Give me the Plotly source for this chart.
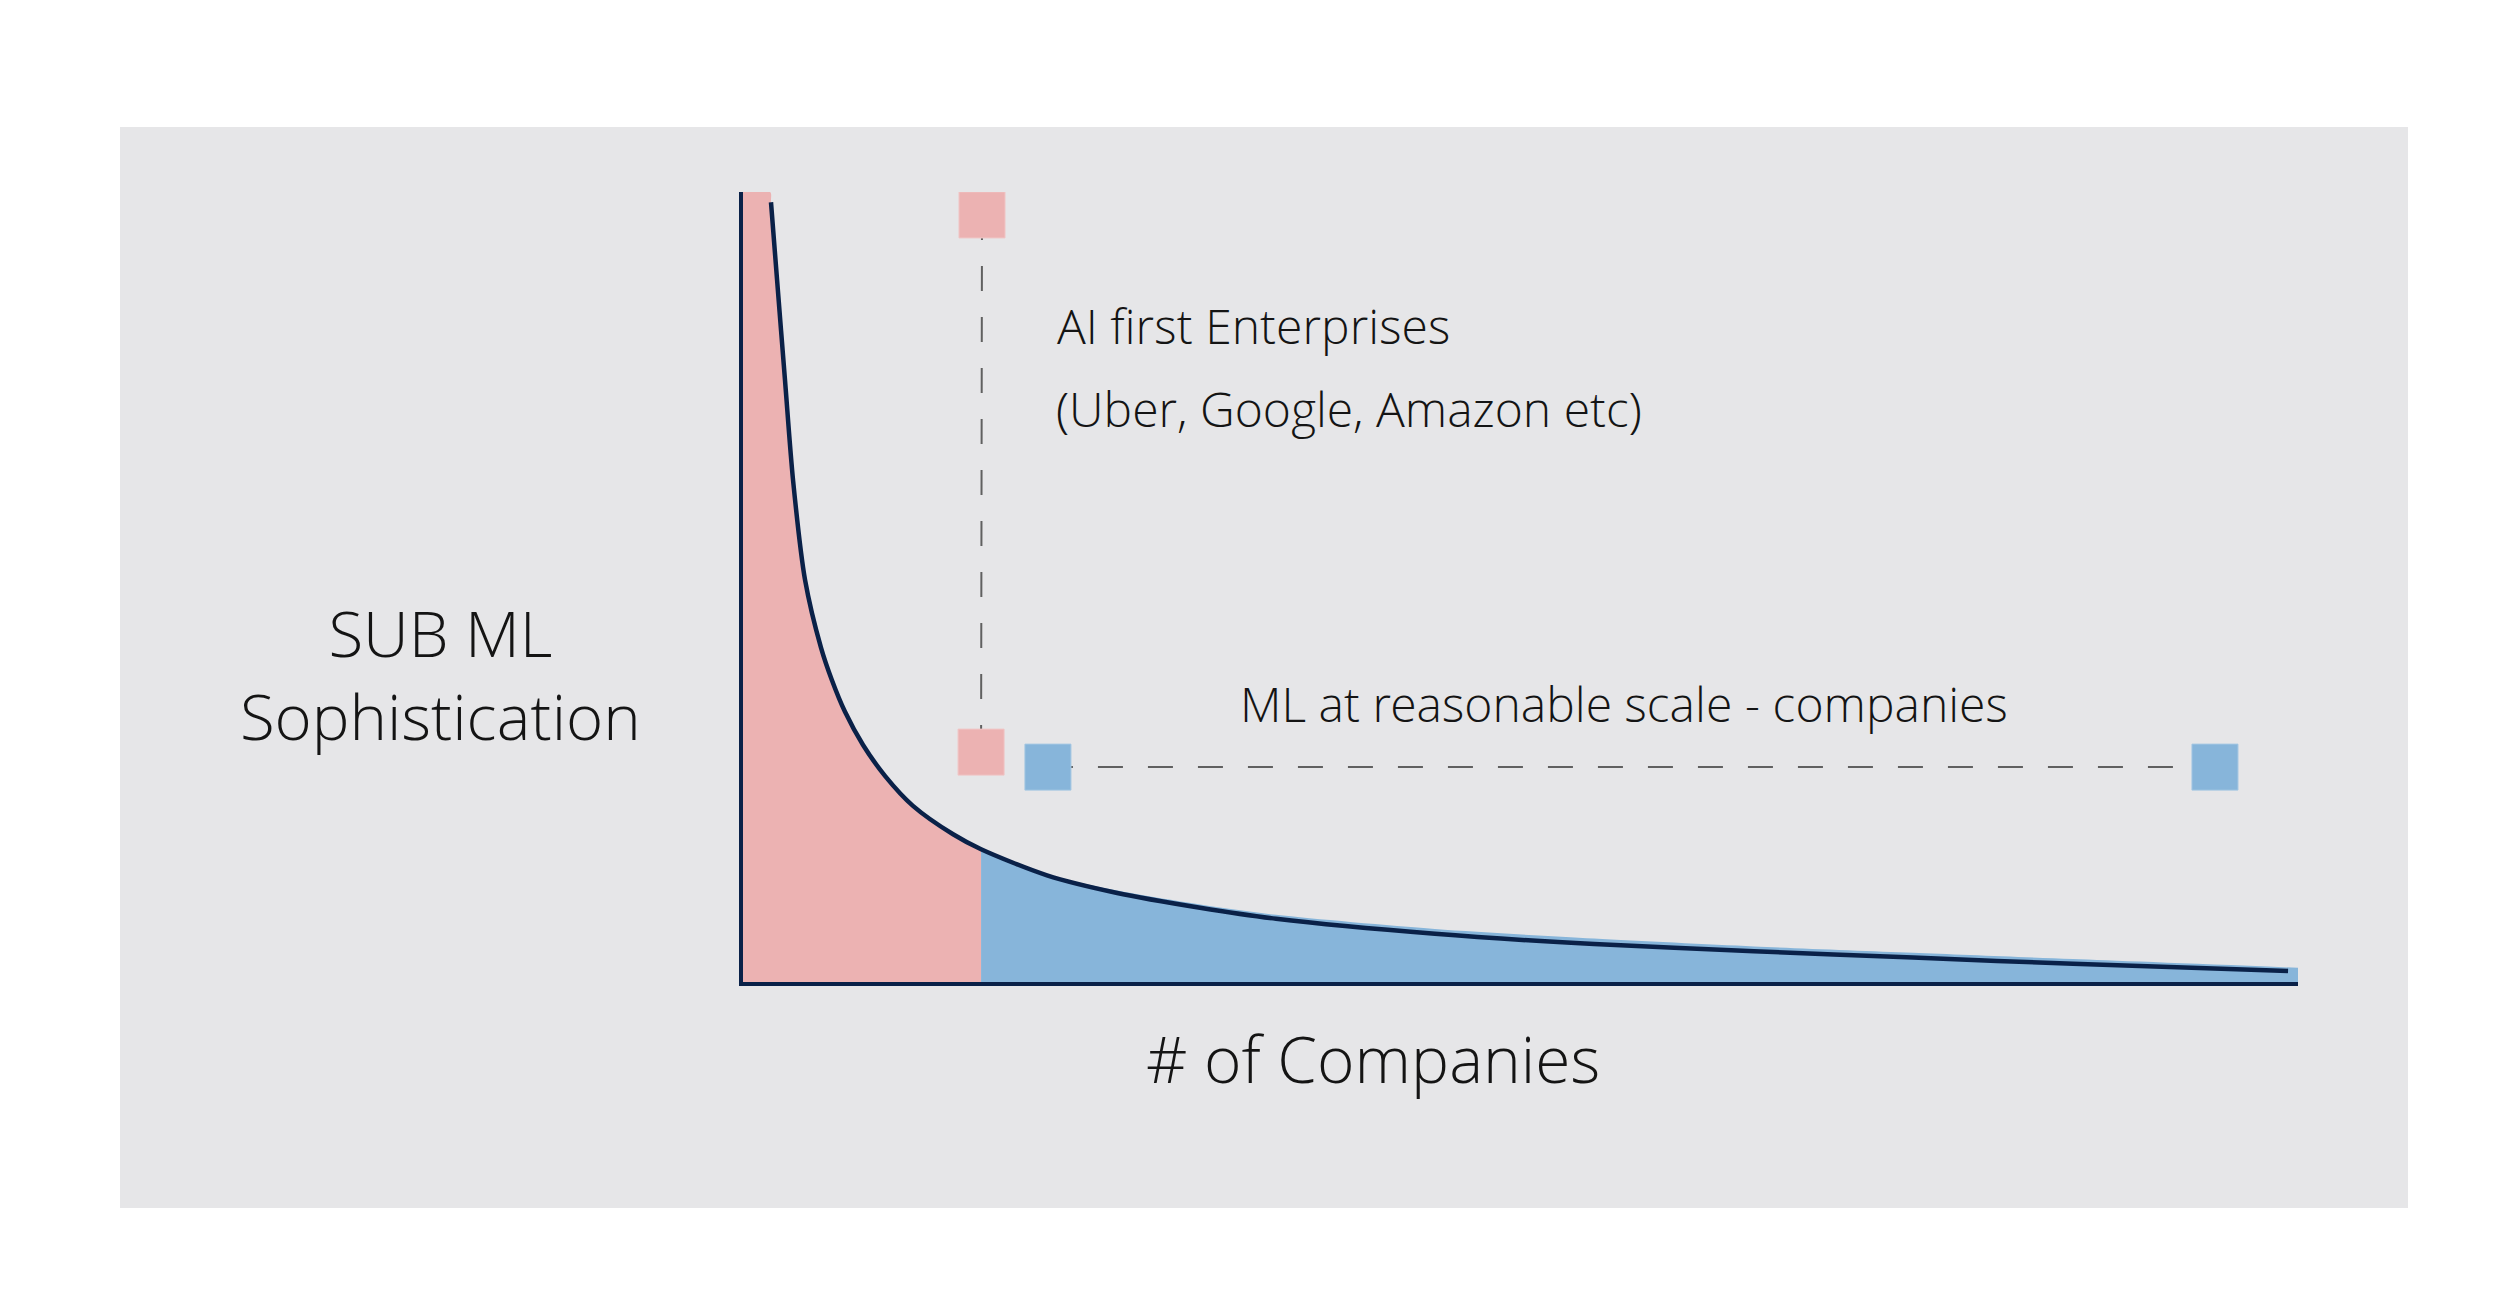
import plotly.graph_objects as go

# ---- data (axis units: 0-100 on both axes) ----
# long-tail curve: ML sophistication vs number of companies
curve_x = [1.80, 2.19, 2.70, 3.22, 3.99, 5.02, 5.72, 6.56, 7.72, 9.13, 10.93, 13.51, 15.31,
           19.55, 23.99, 29.39, 34.28, 44.50, 54.73, 65.02, 75.24, 85.53, 99.36]
curve_y = [98.7, 88.9, 76.2, 63.5, 50.9, 42.3, 38.2, 34.2, 30.0, 26.1, 22.3, 18.7, 16.8,
           13.5, 11.3, 9.4, 8.0, 6.1, 4.8, 3.9, 3.1, 2.3, 1.4]

# pink area (AI first enterprises) = left part of the curve
n_pink = 13
pink_x = [0.0, 1.75] + curve_x[:n_pink]
pink_y = [100.0, 100.0] + curve_y[:n_pink]

# blue area (ML at reasonable scale), sits a touch above the curve in the tail
blue_x = [15.31, 19.55, 23.99, 29.39, 34.28, 44.50, 54.73, 65.02, 75.24, 85.53, 100.0]
blue_y = [16.8, 13.6, 11.6, 9.8, 8.5, 6.7, 5.5, 4.5, 3.7, 2.9, 1.8]

# marker squares and the dashed connectors
ai_first_x = [15.37, 15.31]
ai_first_y = [97.1, 29.1]
reasonable_x = [19.61, 94.66]
reasonable_y = [27.2, 27.2]

# ---- styling ----
NAVY = '#0a2148'
PINK = '#ecb2b2'
BLUE = '#87b5da'
GRAY_BG = '#e6e6e8'
DASH_GRAY = '#606060'
TEXT = '#141414'
FONT = 'Open Sans Light, Open Sans'

W, H = 2500, 1307
# plot box in pixels
L, R, T, B = 743, 2298, 192, 982


def to_paper(px, py):
    return (px - L) / (R - L), (B - py) / (B - T)


fig = go.Figure()

# filled regions
fig.add_trace(go.Scatter(
    x=pink_x, y=pink_y, mode='lines',
    line=dict(width=0, shape='spline', smoothing=0.8),
    fill='tozeroy', fillcolor=PINK, hoverinfo='skip',
))
fig.add_trace(go.Scatter(
    x=blue_x, y=blue_y, mode='lines',
    line=dict(width=0, shape='spline', smoothing=0.8),
    fill='tozeroy', fillcolor=BLUE, hoverinfo='skip',
))

# main curve
fig.add_trace(go.Scatter(
    x=curve_x, y=curve_y, mode='lines',
    line=dict(color=NAVY, width=4.5, shape='spline', smoothing=0.8),
    hoverinfo='skip',
))

# dashed connectors
fig.add_trace(go.Scatter(
    x=ai_first_x, y=ai_first_y, mode='lines',
    line=dict(color=DASH_GRAY, width=2, dash='25px,26px'),
    hoverinfo='skip',
))
fig.add_trace(go.Scatter(
    x=reasonable_x, y=reasonable_y, mode='lines',
    line=dict(color=DASH_GRAY, width=2, dash='25px,25px'),
    hoverinfo='skip',
))

# squares
fig.add_trace(go.Scatter(
    x=ai_first_x, y=ai_first_y, mode='markers',
    marker=dict(symbol='square', size=46, color=PINK,
                line=dict(color='#f0c4c4', width=1)),
    hoverinfo='skip',
))
fig.add_trace(go.Scatter(
    x=reasonable_x, y=reasonable_y, mode='markers',
    marker=dict(symbol='square', size=46, color=BLUE,
                line=dict(color='#a3c6e2', width=1)),
    hoverinfo='skip',
))

# grey panel behind everything
bx0, by1 = to_paper(120, 127)
bx1, by0 = to_paper(2408, 1208)

annotations = []


def add_text(text, px, py, size, xanchor='left'):
    x, y = to_paper(px, py)
    annotations.append(dict(
        text=text, x=x, y=y, xref='paper', yref='paper',
        xanchor=xanchor, yanchor='middle', showarrow=False,
        align='center',
        font=dict(family=FONT, size=size, color=TEXT, weight=300),
    ))


add_text('SUB ML<br>Sophistication', 440, 674, 63.5, xanchor='center')
add_text('# of Companies', 1373, 1058, 64, xanchor='center')
add_text('AI first Enterprises', 1055, 325, 48)
add_text('(Uber, Google, Amazon etc)', 1054, 408, 48)
add_text('ML at reasonable scale - companies', 1624, 703, 48, xanchor='center')

fig.update_layout(
    width=W, height=H, autosize=False,
    margin=dict(l=L, r=W - R, t=T, b=H - B, pad=0),
    paper_bgcolor='white',
    plot_bgcolor='rgba(0,0,0,0)',
    showlegend=False,
    xaxis=dict(
        range=[0, 100], showgrid=False, zeroline=False,
        showticklabels=False, ticks='',
        showline=True, linecolor=NAVY, linewidth=4,
        fixedrange=True,
    ),
    yaxis=dict(
        range=[0, 100], showgrid=False, zeroline=False,
        showticklabels=False, ticks='',
        showline=True, linecolor=NAVY, linewidth=4,
        fixedrange=True,
    ),
    shapes=[dict(
        type='rect', xref='paper', yref='paper',
        x0=bx0, x1=bx1, y0=by0, y1=by1,
        fillcolor=GRAY_BG, line=dict(width=0), layer='below',
    )],
    annotations=annotations,
)

fig.write_html("out.html", post_script="document.body.style.margin='0';",
               config={'displayModeBar': False})
